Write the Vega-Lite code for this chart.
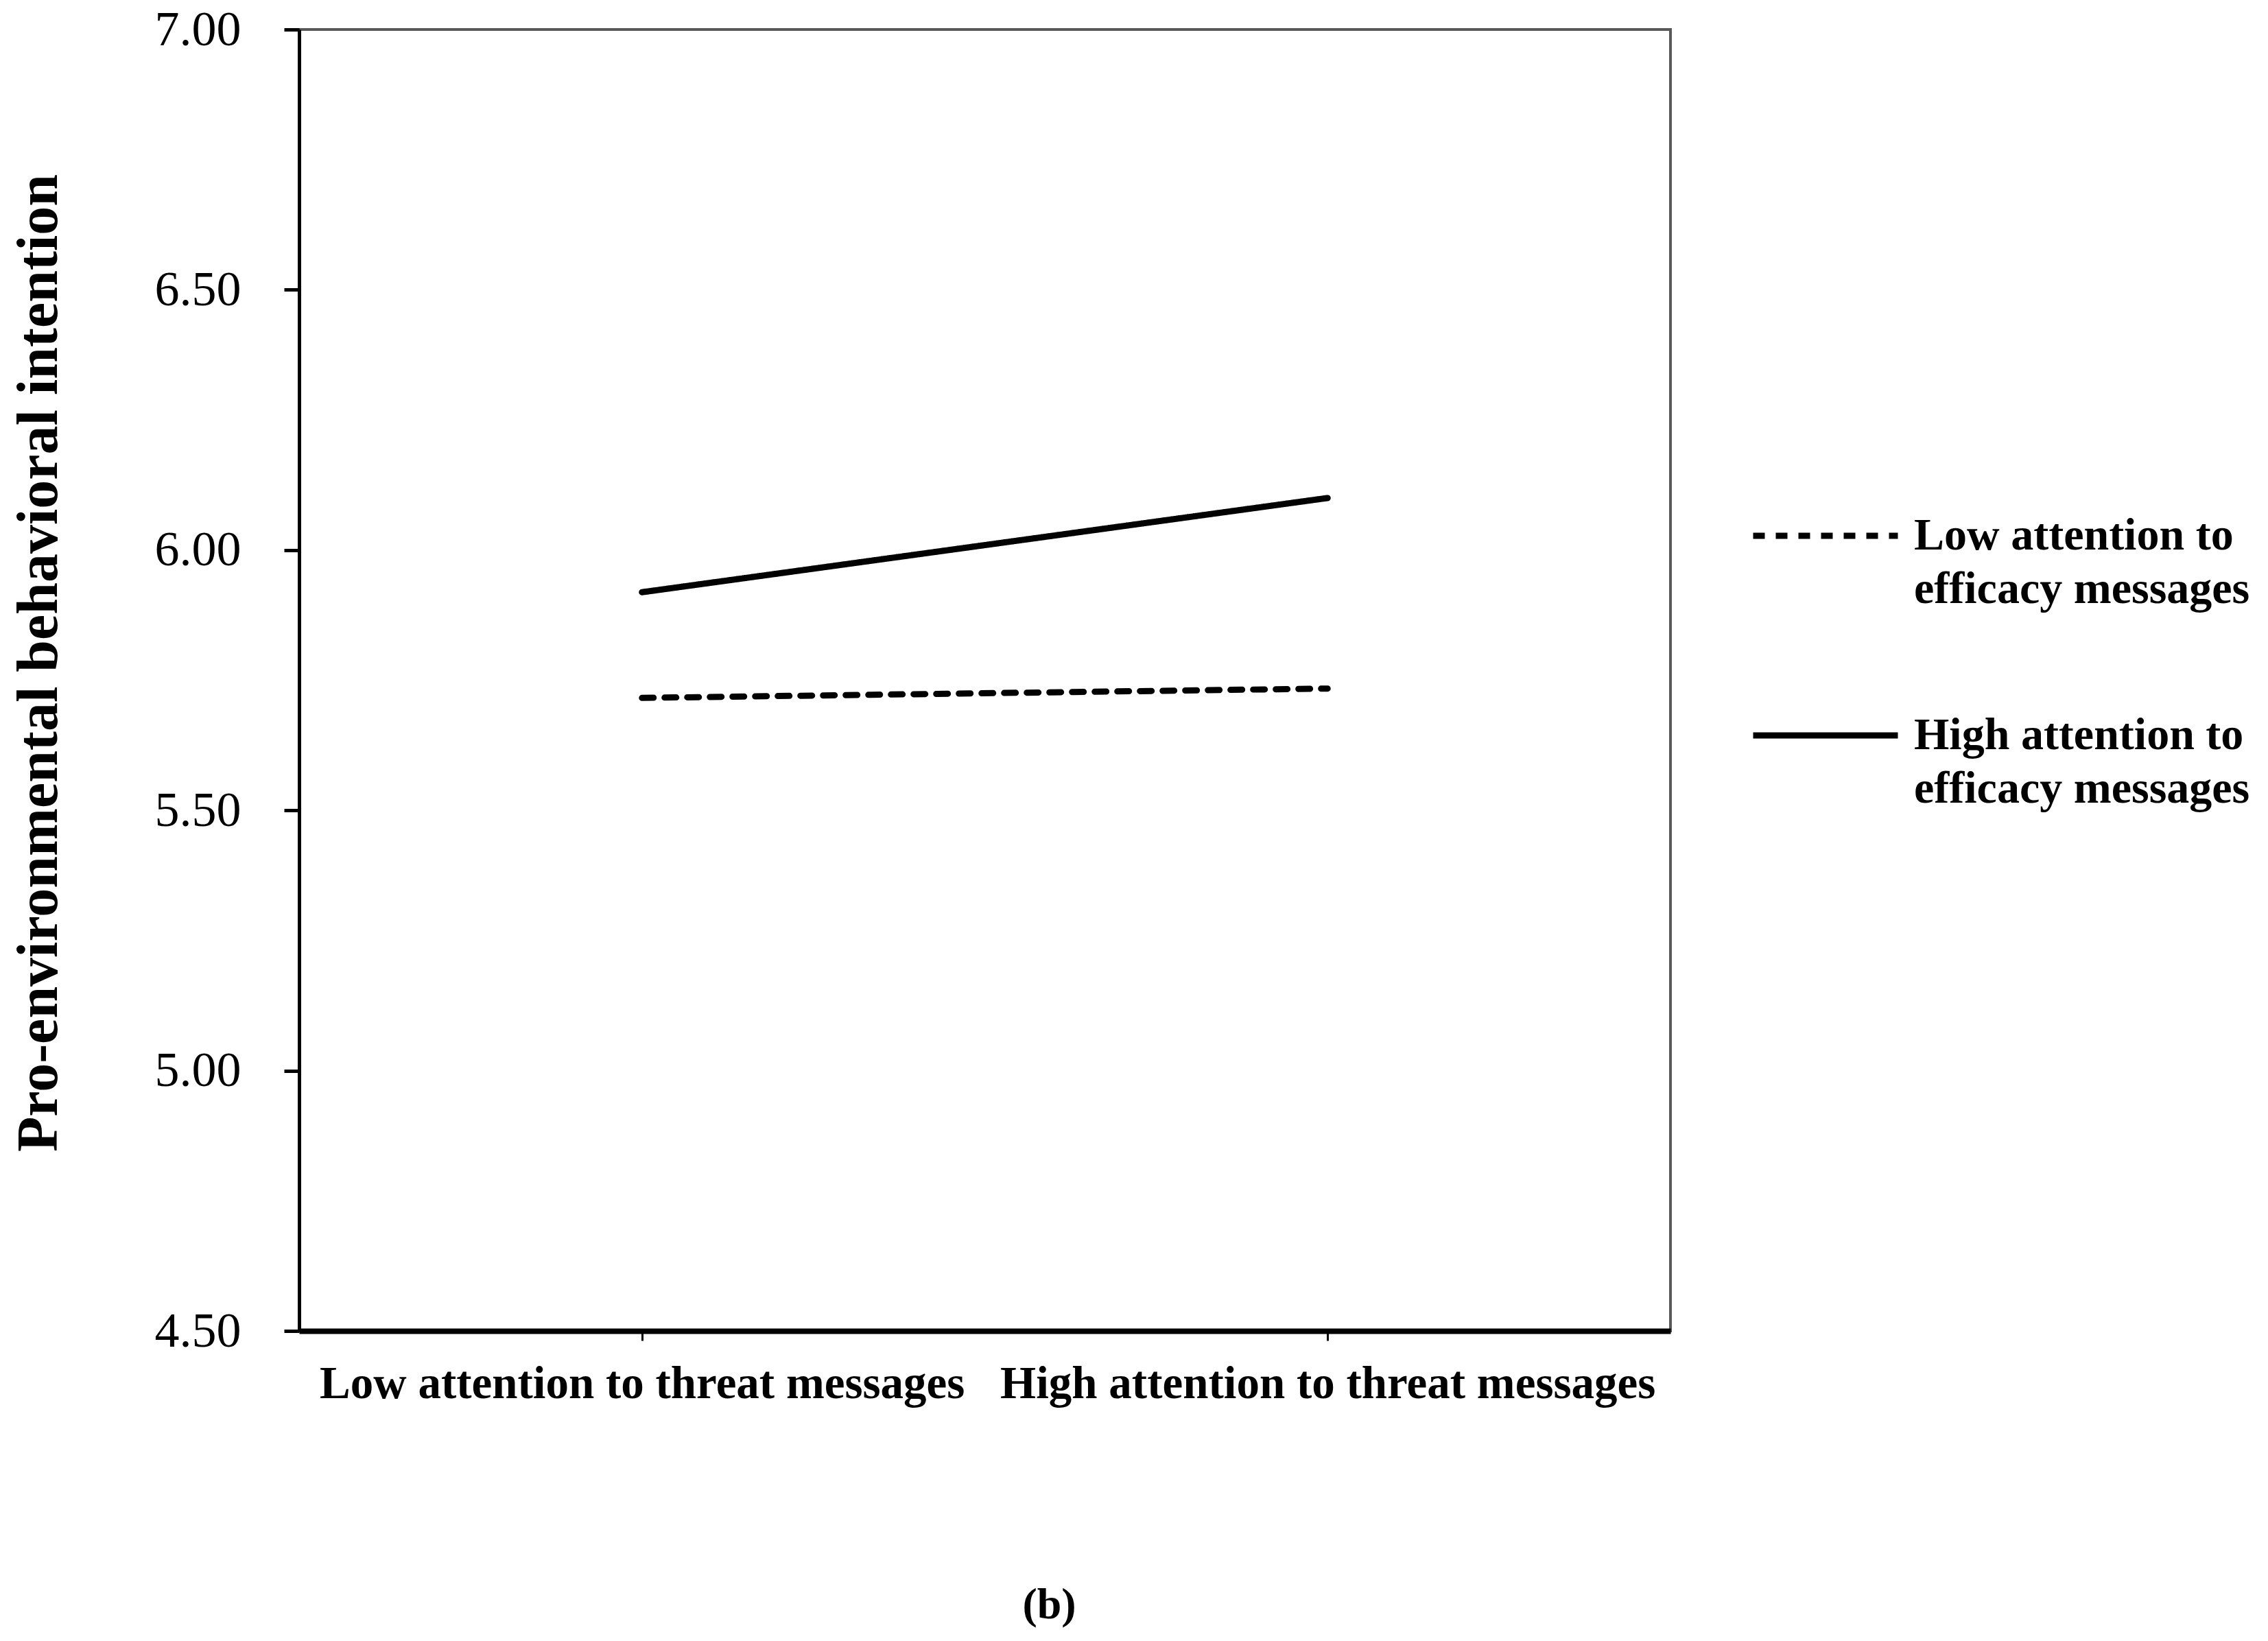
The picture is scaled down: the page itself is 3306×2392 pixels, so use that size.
{
  "$schema": "https://vega.github.io/schema/vega-lite/v6.json",
  "width": 1999,
  "height": 1897,
  "autosize": {"type": "none"},
  "padding": {"left": 436, "top": 43, "right": 871, "bottom": 452},
  "background": "white",
  "title": {
    "text": "(b)",
    "orient": "bottom",
    "anchor": "middle",
    "frame": "group",
    "dx": 94,
    "offset": 258,
    "font": "Liberation Serif",
    "fontSize": 64,
    "fontWeight": "bold",
    "color": "black"
  },
  "data": {
    "values": [
      {"threat": "Low attention to threat messages", "efficacy": "Low attention to efficacy messages", "value": 5.716},
      {"threat": "High attention to threat messages", "efficacy": "Low attention to efficacy messages", "value": 5.734},
      {"threat": "Low attention to threat messages", "efficacy": "High attention to efficacy messages", "value": 5.919},
      {"threat": "High attention to threat messages", "efficacy": "High attention to efficacy messages", "value": 6.1}
    ]
  },
  "mark": {"type": "line", "color": "black", "strokeWidth": 9, "strokeCap": "round"},
  "encoding": {
    "x": {
      "field": "threat",
      "type": "nominal",
      "sort": ["Low attention to threat messages", "High attention to threat messages"],
      "scale": {"type": "point", "padding": 0.5},
      "axis": {
        "title": null,
        "labelAngle": 0,
        "labelFont": "Liberation Serif",
        "labelFontSize": 67,
        "labelFontWeight": "bold",
        "labelColor": "black",
        "labelPadding": 30,
        "labelLimit": 2000,
        "domainColor": "black",
        "domainWidth": 8,
        "tickColor": "black",
        "tickWidth": 3,
        "tickSize": 14,
        "grid": false
      }
    },
    "y": {
      "field": "value",
      "type": "quantitative",
      "scale": {"domain": [4.5, 7], "nice": false, "zero": false},
      "axis": {
        "title": "Pro-environmental behavioral intention",
        "titleFont": "Liberation Serif",
        "titleFontSize": 84,
        "titleFontWeight": "bold",
        "titleColor": "black",
        "titleX": -354,
        "titleY": 923,
        "titleAngle": -90,
        "titleAlign": "center",
        "titleBaseline": "alphabetic",
        "values": [4.5, 5, 5.5, 6, 6.5, 7],
        "format": ".2f",
        "labelFont": "Liberation Serif",
        "labelFontSize": 72,
        "labelColor": "black",
        "labelPadding": 63,
        "labelBaseline": "middle",
        "labelFlush": false,
        "domainColor": "black",
        "domainWidth": 5,
        "tickColor": "black",
        "tickWidth": 5,
        "tickSize": 22,
        "grid": false
      }
    },
    "strokeDash": {
      "field": "efficacy",
      "type": "nominal",
      "scale": {
        "domain": ["Low attention to efficacy messages", "High attention to efficacy messages"],
        "range": [[17, 16], [1, 0]]
      },
      "legend": {
        "title": null,
        "orient": "none",
        "legendX": 2115,
        "legendY": 628,
        "padding": 0,
        "symbolType": "stroke",
        "symbolSize": 44521,
        "symbolStrokeWidth": 9,
        "symbolStrokeColor": "black",
        "labelFont": "Liberation Serif",
        "labelFontSize": 66,
        "labelFontWeight": "bold",
        "labelColor": "black",
        "labelLimit": 1000,
        "labelOffset": 19,
        "rowPadding": 70,
        "labelExpr": "datum.label == 'Low attention to efficacy messages' ? ['Low attention to', 'efficacy messages'] : ['High attention to', 'efficacy messages']",
        "encoding": {"labels": {"lineHeight": {"value": 78}}}
      }
    }
  },
  "config": {
    "view": {"stroke": "#595959", "strokeWidth": 4}
  }
}
